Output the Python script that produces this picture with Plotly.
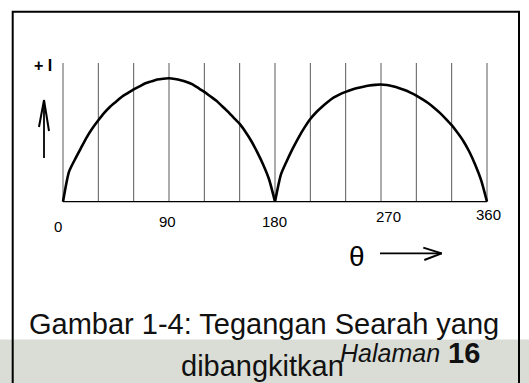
import plotly.graph_objects as go

# Rectified current over one full revolution (degrees vs. relative current)
theta_half1 = [0, 5, 10, 15, 20, 25, 30, 35, 40, 45, 50, 55, 60, 65, 70, 75,
               80, 85, 90, 95, 100, 105, 110, 115, 120, 125, 130, 135, 140,
               145, 150, 155, 160, 165, 170, 175, 180]
current_half1 = [0, 0.24, 0.34, 0.43, 0.52, 0.595, 0.66, 0.72, 0.77, 0.81,
                 0.85, 0.88, 0.91, 0.935, 0.96, 0.975, 0.99, 0.997, 1.0,
                 0.995, 0.985, 0.97, 0.95, 0.92, 0.89, 0.855, 0.82, 0.775,
                 0.73, 0.68, 0.63, 0.565, 0.49, 0.40, 0.30, 0.18, 0]

theta_half2 = [180, 185, 190, 195, 200, 205, 210, 215, 220, 225, 230, 235,
               240, 245, 250, 255, 260, 265, 270, 275, 280, 285, 290, 295,
               300, 305, 310, 315, 320, 325, 330, 335, 340, 345, 350, 355, 360]
current_half2 = [0, 0.22, 0.33, 0.43, 0.52, 0.60, 0.67, 0.725, 0.77, 0.81,
                 0.845, 0.87, 0.89, 0.907, 0.921, 0.932, 0.941, 0.947, 0.95,
                 0.945, 0.935, 0.922, 0.905, 0.884, 0.86, 0.832, 0.80, 0.762,
                 0.72, 0.672, 0.62, 0.558, 0.49, 0.405, 0.30, 0.175, 0]

grid_degrees = [0, 30, 60, 90, 120, 150, 180, 210, 240, 270, 300, 330, 360]
tick_values = [0, 90, 180, 270, 360]
tick_labels = ["0", "90", "180", "270", "360"]

W, H = 529, 383
GRID_TOP = 1.124


def px(x, y):
    """Pixel position -> paper coordinates."""
    return x / W, 1 - y / H


fig = go.Figure()

# vertical guide lines every 30 degrees
gx, gy = [], []
for g in grid_degrees:
    gx += [g, g, None]
    gy += [0, GRID_TOP, None]
fig.add_trace(go.Scatter(x=gx, y=gy, mode="lines",
                         line=dict(color="#5a5a5a", width=1),
                         hoverinfo="skip", showlegend=False))

# horizontal axis line
fig.add_trace(go.Scatter(x=[grid_degrees[0], grid_degrees[-1]], y=[0, 0],
                         mode="lines", line=dict(color="black", width=1.2),
                         hoverinfo="skip", showlegend=False))

# the two rectified half-waves
for th, cur in ((theta_half1, current_half1), (theta_half2, current_half2)):
    fig.add_trace(go.Scatter(x=th, y=cur, mode="lines",
                             line=dict(color="black", width=2.6, shape="spline",
                                       smoothing=0.6),
                             hoverinfo="skip", showlegend=False))

shapes = []
# grey footer band
x0, y0 = px(0, 339.5)
x1, y1 = px(W, H + 5)
shapes.append(dict(type="rect", xref="paper", yref="paper", x0=x0, y0=y1,
                   x1=x1, y1=y0, fillcolor="#d9ddd5", line=dict(width=0),
                   layer="below"))
# frame around the figure (open at the bottom)
fx0, fy0 = px(12.7, 11.7)
fx1, fy1 = px(519, H + 10)
shapes.append(dict(type="rect", xref="paper", yref="paper", x0=fx0, y0=fy1,
                   x1=fx1, y1=fy0, line=dict(color="black", width=2),
                   fillcolor="rgba(0,0,0,0)"))


def seg(a, b, width=1.6):
    ax, ay = px(*a)
    bx, by = px(*b)
    return dict(type="line", xref="paper", yref="paper", x0=ax, y0=ay,
                x1=bx, y1=by, line=dict(color="black", width=width))


# upward arrow next to "+ I"
shapes += [seg((44, 101), (44, 158), 1.8),
           seg((44, 100), (39, 127), 2.0),
           seg((44, 100), (49, 131), 2.0)]
# arrow next to theta
shapes += [seg((380, 253.3), (441.7, 253.3), 1.7),
           seg((423.3, 247.7), (441.7, 253.3), 1.9),
           seg((441.7, 253.3), (424.3, 260), 1.9)]

annotations = []
NARROW = "Liberation Sans Narrow, Arial Narrow, Liberation Sans, Arial"
SANS = "Liberation Sans, Arial, sans-serif"

label_shift = [-5, -2, -1, 7, 1]
label_y = [226.7, 221.7, 221.7, 216.7, 214.3]
for v, t, dx, ly in zip(tick_values, tick_labels, label_shift, label_y):
    annotations.append(dict(x=v, xref="x", y=px(0, ly)[1], yref="paper",
                            xshift=dx, text=t, showarrow=False,
                            xanchor="center", yanchor="middle",
                            font=dict(family=NARROW, size=15, color="black")))

annotations.append(dict(x=px(43, 0)[0], y=px(0, 65.5)[1], xref="paper",
                        yref="paper", text="<b>+ I</b>", showarrow=False,
                        xanchor="center", yanchor="middle",
                        font=dict(family=SANS, size=16, color="black")))
annotations.append(dict(x=px(357, 0)[0], y=px(0, 256)[1], xref="paper",
                        yref="paper", text="θ", showarrow=False,
                        xanchor="center", yanchor="middle",
                        font=dict(family=NARROW, size=28, color="black")))

annotations.append(dict(x=px(263.8, 0)[0], y=px(0, 324)[1], xref="paper",
                        yref="paper", text="Gambar 1-4: Tegangan Searah yang",
                        showarrow=False, xanchor="center", yanchor="middle",
                        font=dict(family=SANS, size=29, color="#111111")))
annotations.append(dict(x=px(262.5, 0)[0], y=px(0, 366)[1], xref="paper",
                        yref="paper", text="dibangkitkan",
                        showarrow=False, xanchor="center", yanchor="middle",
                        font=dict(family=SANS, size=29, color="#111111")))
annotations.append(dict(x=px(338, 0)[0], y=px(0, 353)[1], xref="paper",
                        yref="paper", text="<i>Halaman</i>",
                        showarrow=False, xanchor="left", yanchor="middle",
                        font=dict(family=SANS, size=25, color="#111111")))
annotations.append(dict(x=px(445.5, 0)[0], y=px(0, 352.5)[1], xref="paper",
                        yref="paper", text="<b>16</b>",
                        showarrow=False, xanchor="left", yanchor="middle",
                        font=dict(family=SANS, size=29, color="#111111")))

x_per_deg = (487 - 63) / 360
y_per_unit = 123.4
fig.update_layout(
    width=W, height=H, autosize=False,
    margin=dict(l=0, r=0, t=0, b=0, pad=0),
    paper_bgcolor="white", plot_bgcolor="white",
    xaxis=dict(visible=False, range=[-63 / x_per_deg, (W - 63) / x_per_deg],
               fixedrange=True),
    yaxis=dict(visible=False, range=[-(H - 201.7) / y_per_unit, 201.7 / y_per_unit],
               fixedrange=True),
    shapes=shapes, annotations=annotations, showlegend=False,
)

fig.write_html("out.html", config={"displayModeBar": False})
